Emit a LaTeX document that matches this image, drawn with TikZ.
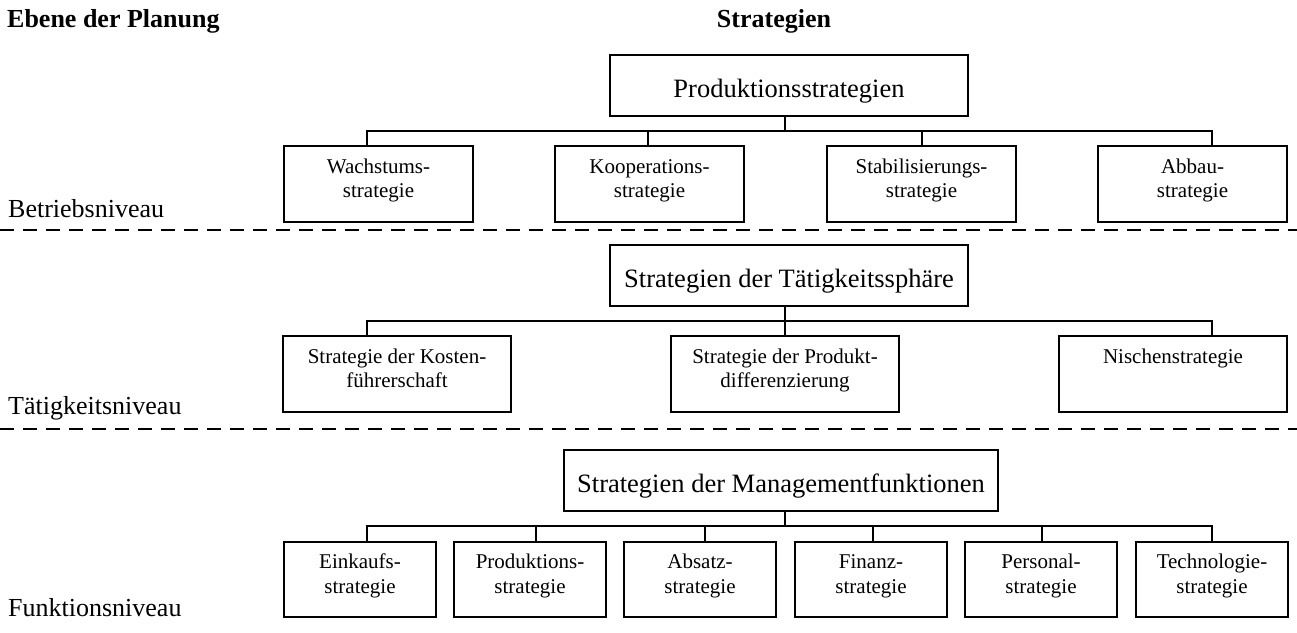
\documentclass[tikz,border=0pt]{standalone}
\usepackage{fontspec}
\setmainfont{Liberation Serif}
\newcommand{\twolines}[2]{\begin{tabular}[t]{@{}c@{}}#1\\#2\end{tabular}}
\begin{document}
\begin{tikzpicture}[x=1pt,y=-1pt,
  pbox/.style={draw, line width=1.8pt, inner sep=0pt, minimum height=61,
    font=\fontsize{26.5}{30}\selectfont, text height=23, text depth=0},
  cbox/.style={draw, line width=1.8pt, inner sep=0pt, minimum height=76,
    font=\fontsize{21}{24.5}\selectfont, text height=0, text depth=22},
  conn/.style={line width=1.6pt},
  sep/.style={line width=2.5pt, dash pattern=on 14pt off 9pt},
  level/.style={anchor=base west, inner sep=0pt, font=\fontsize{26}{30}\selectfont},
  head/.style={inner sep=0pt, font=\bfseries\fontsize{26}{30}\selectfont}
]
\path[use as bounding box, fill=white] (0,0) rectangle (1297,632);

% column headings
\node[head, anchor=base west] (hEbene) at (7,27) {Ebene der Planung};
\node[head, anchor=base] (hStrat) at (774,27) {Strategien};

% level separators
\draw[sep] (0,230) -- (1297,230);
\draw[sep] (0,429) -- (1297,429);

% level names
\node[level] (lBetrieb) at (8,217) {Betriebsniveau};
\node[level] (lTaet) at (8,414) {Tätigkeitsniveau};
\node[level] (lFunk) at (8,616) {Funktionsniveau};

% common vertical axis of the three parent stems
\coordinate (axis) at (785,0);

% ---- Betriebsniveau
\node[pbox, minimum width=358] (P1) at (789,85.5) {Produktionsstrategien};
\node[cbox, minimum width=189] (w) at (378.5,184) {\twolines{Wachstums-}{strategie}};
\node[cbox, minimum width=189] (k) at (649.5,184) {\twolines{Kooperations-}{strategie}};
\node[cbox, minimum width=189] (s) at (921.5,184) {\twolines{Stabilisierungs-}{strategie}};
\node[cbox, minimum width=189] (a) at (1192.5,184) {\twolines{Abbau-}{strategie}};
\coordinate (bar1) at (0,131);
\coordinate (w-x) at (367,0);
\coordinate (k-x) at (648,0);
\coordinate (s-x) at (922,0);
\coordinate (a-x) at (1212,0);
\foreach \n in {w,k,s,a}
  \draw[conn] (P1.south -| axis) -- (axis |- bar1) -| (\n.north -| \n-x);

% ---- Taetigkeitsniveau
\node[pbox, minimum width=358] (P2) at (789,275.5) {Strategien der Tätigkeitssphäre};
\node[cbox, minimum width=228] (kf) at (397,374) {\twolines{Strategie der Kosten-}{führerschaft}};
\node[cbox, minimum width=228] (pd) at (785,374) {\twolines{Strategie der Produkt-}{differenzierung}};
\node[cbox, minimum width=228] (ni) at (1173,374) {\twolines{Nischenstrategie}{}};
\coordinate (bar2) at (0,321);
\coordinate (kf-x) at (367,0);
\coordinate (pd-x) at (785,0);
\coordinate (ni-x) at (1212,0);
\foreach \n in {kf,pd,ni}
  \draw[conn] (P2.south -| axis) -- (axis |- bar2) -| (\n.north -| \n-x);

% ---- Funktionsniveau
\node[pbox, minimum width=434] (P3) at (781,480.5) {Strategien der Managementfunktionen};
\node[cbox, minimum width=152, minimum height=75] (ek) at (360,579.5) {\twolines{Einkaufs-}{strategie}};
\node[cbox, minimum width=152, minimum height=75] (pr) at (530,579.5) {\twolines{Produktions-}{strategie}};
\node[cbox, minimum width=152, minimum height=75] (ab) at (700,579.5) {\twolines{Absatz-}{strategie}};
\node[cbox, minimum width=152, minimum height=75] (fi) at (871,579.5) {\twolines{Finanz-}{strategie}};
\node[cbox, minimum width=152, minimum height=75] (pe) at (1041,579.5) {\twolines{Personal-}{strategie}};
\node[cbox, minimum width=152, minimum height=75] (te) at (1212,579.5) {\twolines{Technologie-}{strategie}};
\coordinate (bar3) at (0,526);
\coordinate (ek-x) at (367,0);
\coordinate (pr-x) at (536,0);
\coordinate (ab-x) at (705,0);
\coordinate (fi-x) at (873,0);
\coordinate (pe-x) at (1042,0);
\coordinate (te-x) at (1212,0);
\foreach \n in {ek,pr,ab,fi,pe,te}
  \draw[conn] (P3.south -| axis) -- (axis |- bar3) -| (\n.north -| \n-x);
\end{tikzpicture}
\end{document}
